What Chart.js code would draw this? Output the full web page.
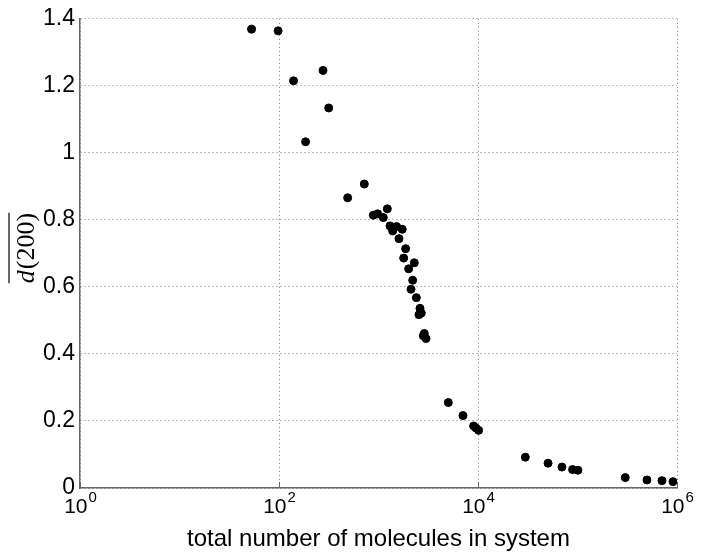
<!DOCTYPE html>
<html>
<head>
<meta charset="utf-8">
<script src="https://cdn.jsdelivr.net/npm/chart.js@4/dist/chart.umd.min.js"></script>
<style>
  html, body { margin: 0; padding: 0; background: #fff; }
  #wrap { width: 704px; height: 560px; }
</style>
</head>
<body>
<div id="wrap"><canvas id="chart"></canvas></div>
<script>
// total number of molecules (x) and mean d(200) (y)
const molecules = [53, 98, 140, 185, 277, 316, 490, 720, 887, 981, 1117, 1227, 1305, 1388, 1522, 1606,
  1733, 1790, 1874, 2010, 2122, 2205, 2290, 2400, 2552, 2611, 2694, 2820, 2887, 3000,
  5030, 7060, 9040, 9540, 10140, 29900, 50600, 69800, 89200, 101000, 302000, 499000, 706000, 912000];
const dValues = [1.369, 1.364, 1.215, 1.033, 1.246, 1.134, 0.866, 0.907, 0.814, 0.818, 0.807, 0.833, 0.782, 0.767, 0.780, 0.744,
  0.772, 0.686, 0.714, 0.654, 0.593, 0.620, 0.672, 0.568, 0.517, 0.536, 0.522, 0.454, 0.461, 0.446,
  0.255, 0.216, 0.185, 0.179, 0.172, 0.092, 0.074, 0.0625, 0.055, 0.053, 0.031, 0.024, 0.022, 0.019];

const xTicks = [1, 100, 10000, 1000000];
const xTickExp = ['0', '2', '4', '6'];
const yTicks = [0, 0.2, 0.4, 0.6, 0.8, 1, 1.2, 1.4];
const yTickLabels = ['0', '0.2', '0.4', '0.6', '0.8', '1', '1.2', '1.4'];

const points = molecules.map((m, i) => ({ x: m, y: dValues[i] }));

const sansFont = '"Liberation Sans", Arial, Helvetica, sans-serif';
const serifFont = '"Liberation Serif", "Times New Roman", serif';

// x tick labels with exponents, axis titles
const labelsPlugin = {
  id: 'labels',
  afterDraw(chart) {
    const ctx = chart.ctx;
    const xs = chart.scales.x;
    const area = chart.chartArea;
    ctx.save();
    ctx.fillStyle = '#000';
    ctx.textBaseline = 'alphabetic';
    xTicks.forEach((t, i) => {
      const px = xs.getPixelForValue(t);
      ctx.font = '21px ' + sansFont;
      const w = ctx.measureText('10').width;
      ctx.font = '15px ' + sansFont;
      const we = ctx.measureText(xTickExp[i]).width;
      const left = px - (w + we) / 2;
      ctx.font = '21px ' + sansFont;
      ctx.textAlign = 'left';
      ctx.fillText('10', left, area.bottom + 25);
      ctx.font = '15px ' + sansFont;
      ctx.fillText(xTickExp[i], left + w + 1, area.bottom + 14);
    });

    // small inward ticks on the bottom axis
    ctx.strokeStyle = '#666';
    ctx.lineWidth = 1;
    xTicks.forEach(t => {
      const px = Math.round(xs.getPixelForValue(t)) + 0.5;
      ctx.beginPath();
      ctx.moveTo(px, area.bottom);
      ctx.lineTo(px, area.bottom - 6);
      ctx.stroke();
    });

    ctx.font = '24px ' + sansFont;
    ctx.textAlign = 'center';
    ctx.fillText('total number of molecules in system', (area.left + area.right) / 2, 546);

    // y title: overline d(200), rotated
    ctx.translate(34, 248);
    ctx.rotate(-Math.PI / 2);
    ctx.textAlign = 'left';
    ctx.font = 'italic 26px ' + serifFont;
    const dW = ctx.measureText('d').width;
    ctx.font = '26px ' + serifFont;
    const rW = ctx.measureText('(200)').width;
    const total = dW + 1 + rW;
    const x0 = -total / 2;
    ctx.font = 'italic 26px ' + serifFont;
    ctx.fillText('d', x0, 0);
    ctx.font = '26px ' + serifFont;
    ctx.fillText('(200)', x0 + dW + 1, 0);
    ctx.strokeStyle = '#000';
    ctx.lineWidth = 1.2;
    ctx.beginPath();
    ctx.moveTo(x0, -25);
    ctx.lineTo(x0 + total, -25);
    ctx.stroke();
    ctx.restore();
  }
};

new Chart(document.getElementById('chart'), {
  type: 'scatter',
  data: {
    datasets: [{
      data: points,
      backgroundColor: '#000',
      borderColor: '#000',
      pointRadius: 4,
      pointStyle: 'circle'
    }]
  },
  options: {
    responsive: true,
    maintainAspectRatio: false,
    animation: false,
    layout: { padding: { top: 16, right: 27, left: 0, bottom: 0 } },
    scales: {
      x: {
        type: 'logarithmic',
        min: 1,
        max: 1000000,
        afterBuildTicks(scale) {
          scale.ticks = xTicks.map(v => ({ value: v }));
        },
        afterFit(scale) { scale.height = 72; },
        ticks: { display: false },
        grid: { color: '#777', lineWidth: 1, drawTicks: false },
        border: { display: true, color: '#666', width: 1.5, dash: [1, 3] }
      },
      y: {
        min: 0,
        max: 1.4,
        afterBuildTicks(scale) {
          scale.ticks = yTicks.map(v => ({ value: v }));
        },
        afterFit(scale) { scale.width = 80; },
        ticks: {
          color: '#000',
          padding: 5,
          font: { family: sansFont, size: 23 },
          callback: (v) => yTickLabels[yTicks.indexOf(v)] ?? ''
        },
        grid: { color: '#777', lineWidth: 1, drawTicks: false },
        border: { display: true, color: '#666', width: 1.5, dash: [1, 3] }
      }
    },
    plugins: {
      legend: { display: false },
      tooltip: { enabled: false }
    }
  },
  plugins: [labelsPlugin]
});
</script>
</body>
</html>
